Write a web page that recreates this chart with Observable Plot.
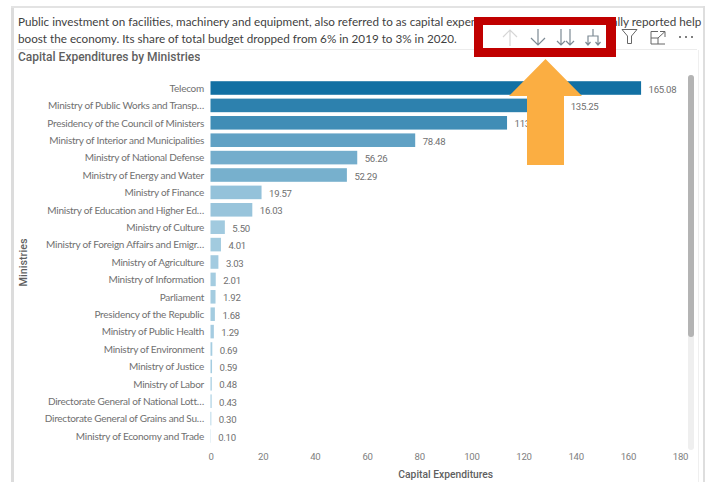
<!DOCTYPE html>
<html>
<head>
<meta charset="utf-8">
<script src="https://cdn.jsdelivr.net/npm/d3@7"></script>
<script src="https://cdn.jsdelivr.net/npm/@observablehq/plot@0.6"></script>
<style>
html,body{margin:0;padding:0;background:#fff;width:708px;height:482px;overflow:hidden}
#wrap{position:relative;width:708px;height:482px;font-family:Lato,sans-serif}
#chart{position:absolute;left:0;top:0}
#chart svg{display:block;background:transparent}
.t{position:absolute;white-space:nowrap;overflow:hidden}
#overlay{position:absolute;left:0;top:0}
g[aria-label="y-axis tick label"] text{letter-spacing:-.25px}
.vals text{letter-spacing:-.3px}
g[aria-label="x-axis tick label"] text{letter-spacing:-.3px}
</style>
</head>
<body>
<div id="wrap">
  <div class="t" style="left:18px;top:13px;width:685px;font-size:11.7px;color:#3f3f3f;line-height:17px">Public investment on facilities, machinery and equipment, also referred to as capital expenditures, have been historically reported help</div>
  <div class="t" style="left:18px;top:30px;font-size:11.7px;color:#3f3f3f;line-height:17px">boost the economy. Its share of total budget dropped from 6% in 2019 to 3% in 2020.</div>
  <div class="t" style="left:18px;top:49px;font-family:Roboto,sans-serif;font-weight:500;font-size:12px;color:#5f5f5f;line-height:17px">Capital Expenditures by Ministries</div>
  <div id="chart"></div>
  <svg id="overlay" width="708" height="482" xmlns="http://www.w3.org/2000/svg"></svg>
</div>
<script>
const ministries = [
  "Telecom","Ministry of Public Works and Transp…","Presidency of the Council of Ministers",
  "Ministry of Interior and Municipalities","Ministry of National Defense","Ministry of Energy and Water",
  "Ministry of Finance","Ministry of Education and Higher Ed…","Ministry of Culture",
  "Ministry of Foreign Affairs and Emigr…","Ministry of Agriculture","Ministry of Information",
  "Parliament","Presidency of the Republic","Ministry of Public Health","Ministry of Environment",
  "Ministry of Justice","Ministry of Labor","Directorate General of National Lott…",
  "Directorate General of Grains and Su…","Ministry of Economy and Trade"
];
const expenditures = [165.08,135.25,113.69,78.48,56.26,52.29,19.57,16.03,5.50,4.01,3.03,2.01,1.92,1.68,1.29,0.69,0.59,0.48,0.43,0.30,0.10];
const xTicks = [0,20,40,60,80,100,120,140,160,180];
const rows = ministries.map((name,i)=>({name,value:expenditures[i]}));
const labelFont = 'Lato,sans-serif';

const plot = Plot.plot({
  width:708, height:482,
  marginLeft:210.5, marginRight:28, marginTop:79.3, marginBottom:37.3,
  style:{background:"transparent",fontFamily:labelFont,overflow:"visible"},
  x:{domain:[0,180],ticks:xTicks,label:null,axis:null},
  y:{domain:ministries,paddingInner:0.22,paddingOuter:0.11,align:0.5,round:false,label:null,axis:null},
  color:{type:"linear",domain:[0,165.08],range:["#a6cde1","#1270a3"]},
  marks:[
    Plot.ruleX(xTicks,{x:d=>d,y1:ministries[0],y2:ministries[ministries.length-1],insetTop:-11,insetBottom:-14,stroke:"#d5d5d5",strokeWidth:1,strokeDasharray:"1,4"}),
    Plot.barX(rows,{x:"value",y:"name",fill:"value"}),
    Plot.text(rows,{x:"value",y:"name",text:d=>d.value.toFixed(2),textAnchor:"start",dx:7,dy:1,fontFamily:"Roboto,sans-serif",fontSize:9.6,fill:"#707070",className:"vals"}),
    Plot.axisY({anchor:"left",tickSize:0,tickPadding:7,fontSize:10,color:"#707070",label:null,tickFormat:d=>d,lineWidth:Infinity,textOverflow:null}),
    Plot.axisX({anchor:"bottom",ticks:xTicks,tickSize:0,tickPadding:8,fontFamily:"Roboto,sans-serif",fontSize:9.6,color:"#808080",label:null,tickFormat:d=>String(d)}),
    Plot.text(["Capital Expenditures"],{frameAnchor:"bottom",dy:33,text:d=>d,fontFamily:"Roboto,sans-serif",fontWeight:500,fontSize:10.3,fill:"#5f5f5f"}),
    Plot.text(["Ministries"],{frameAnchor:"left",dx:-187,rotate:-90,textAnchor:"middle",text:d=>d,fontFamily:"Roboto,sans-serif",fontWeight:500,fontSize:10.8,fill:"#5f5f5f"})
  ]
});
document.getElementById("chart").appendChild(plot);

// Card frame, scrollbar, toolbar icons and the callout
const ov = d3.select("#overlay");
const rect=(x,y,w,h,f)=>ov.append("rect").attr("x",x).attr("y",y).attr("width",w).attr("height",h).attr("fill",f);
const path=(d,s,w)=>ov.append("path").attr("d",d).attr("fill","none").attr("stroke",s).attr("stroke-width",w||1.2);
rect(11,6,3,476,"#dcdcdc");
rect(11,6,694,2,"#e3e3e3");
rect(703,6,2,476,"#dedede");
rect(698,50,1,432,"#efefef");
rect(17,49,680,1,"#ececec");
rect(688,75,6,375,"#efefef").attr("rx",3);
rect(688,75,6,262,"#b4b4b4").attr("rx",3);
// callout
rect(474,17,142,40,"#c00000");
rect(483,25,123,23,"#ffffff");
ov.append("polygon").attr("points","545.5,59 582,96 564,96 564,165 527,165 527,96 509,96").attr("fill","#fbae42");
// toolbar icons
path("M510,46 V30 M503,37 L510,30 L517,37","#d6d6d6");
path("M538,29 V45 M531,38 L538,45 L545,38","#7d8a94");
path("M561,29 V45 M557,41 L561,45 L565,41 M570,29 V45 M566,41 L570,45 L574,41","#7d8a94");
path("M593,29 V36 M588,45 V36 H598 V45 M585.5,42 L588,45 L590.5,42 M595.5,42 L598,45 L600.5,42","#7d8a94");
path("M622,29.5 H637 L631.5,36 V43.5 L627.5,43.5 V36 Z","#666",1);
path("M651,36 V44 H665 M651,36 V31.5 H658 M660,31.5 H665 V37 M658,38 L665,31.5 M651,38 H658 V44","#666",1);
[680,686,692].forEach(x=>ov.append("circle").attr("cx",x).attr("cy",37).attr("r",1).attr("fill","#555"));
</script>
</body>
</html>
